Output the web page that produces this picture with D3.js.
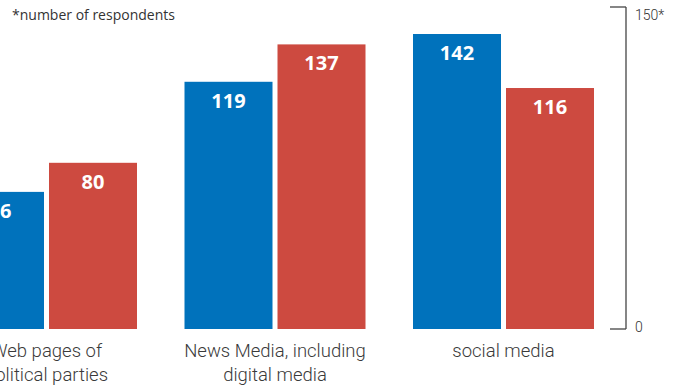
<!DOCTYPE html>
<html>
<head>
<meta charset="utf-8">
<script src="https://cdn.jsdelivr.net/npm/d3@7"></script>
<style>
  body { margin: 0; background: #fff; }
  .catLabel { font-family: Roboto, sans-serif; font-weight: 300; font-size: 18.5px; fill: #3a3a3a; }
  .valLabel { font-family: "Open Sans", sans-serif; font-weight: 700; font-size: 20px; fill: #fff; }
  .note { font-family: "Open Sans", sans-serif; font-size: 14px; fill: #333; }
  .axisLabel { font-family: Roboto, sans-serif; font-weight: 300; font-size: 14px; fill: #333; }
</style>
</head>
<body>
<svg id="chart" width="680" height="387"></svg>
<script>
'use strict';

// groups along the x axis (two lines each)
const categories = ['Web pages of political parties', 'News Media, including digital media', 'social media'];
const categoryLines = [['Web pages of', 'political parties'], ['News Media, including', 'digital media'], ['social media']];
// two series per group
const seriesNames = ['blue', 'red'];
const blueValues = [66, 119, 142];
const redValues = [80, 137, 116];
const seriesColors = ['#0072bc', '#cd4a40'];
// bracket axis on the right
const axisTicks = [0, 155];
const axisTickLabels = ['0', '150*'];

const svg = d3.select('#chart');
const baseY = 329;

// outer band: one per group; first group runs off the left edge
const x0 = d3.scaleBand()
  .domain(categories)
  .range([-44, 594])
  .paddingInner(47.5 / 228.5)
  .paddingOuter(0);

// inner band: blue then red inside each group
const x1 = d3.scaleBand()
  .domain(seriesNames)
  .range([0, x0.bandwidth()])
  .paddingInner(5 / 93);

const y = d3.scaleLinear().domain([0, 155]).range([baseY, 7]);

const rows = categories.map((c, i) => ({
  cat: c,
  lines: categoryLines[i],
  vals: [blueValues[i], redValues[i]],
}));

const groups = svg.selectAll('g.group')
  .data(rows)
  .join('g')
  .attr('class', 'group')
  .attr('transform', (d) => `translate(${x0(d.cat)},0)`);

const bars = groups.selectAll('g.bar')
  .data((d) => d.vals.map((v, j) => ({ key: seriesNames[j], v, j })))
  .join('g')
  .attr('class', 'bar');

bars.append('rect')
  .attr('x', (d) => x1(d.key))
  .attr('y', (d) => y(d.v))
  .attr('width', x1.bandwidth())
  .attr('height', (d) => y(0) - y(d.v))
  .style('fill', (d) => seriesColors[d.j]);

bars.append('text')
  .attr('class', 'valLabel')
  .attr('x', (d) => x1(d.key) + x1.bandwidth() / 2)
  .attr('y', (d) => y(d.v) + 26)
  .attr('text-anchor', 'middle')
  .text((d) => d.v);

// category labels under each group
groups.append('text')
  .attr('class', 'catLabel')
  .attr('text-anchor', 'middle')
  .attr('transform', `translate(${x0.bandwidth() / 2},0)`)
  .selectAll('tspan')
  .data((d) => d.lines)
  .join('tspan')
  .attr('x', 0)
  .attr('y', (d, i) => 357 + i * 24)
  .text((d) => d);

// bracket-style axis on the right
const axisX = 626;
const axis = svg.append('g').attr('class', 'bracket');
axis.append('line')
  .attr('x1', axisX).attr('x2', axisX)
  .attr('y1', y(axisTicks[1])).attr('y2', y(axisTicks[0]))
  .style('stroke', '#444').style('stroke-width', 1.3);
axis.selectAll('line.tick')
  .data(axisTicks)
  .join('line')
  .attr('class', 'tick')
  .attr('x1', axisX - 16).attr('x2', axisX)
  .attr('y1', (d) => y(d)).attr('y2', (d) => y(d))
  .style('stroke', '#444').style('stroke-width', 1.3);
axis.selectAll('text')
  .data(axisTicks)
  .join('text')
  .attr('class', 'axisLabel')
  .attr('x', axisX + 9)
  .attr('y', (d, i) => y(d) + (i === 0 ? 3 : 13))
  .text((d, i) => axisTickLabels[i]);

// footnote
svg.append('text')
  .attr('class', 'note')
  .attr('x', 12)
  .attr('y', 20)
  .text('*number of respondents');
</script>
</body>
</html>
